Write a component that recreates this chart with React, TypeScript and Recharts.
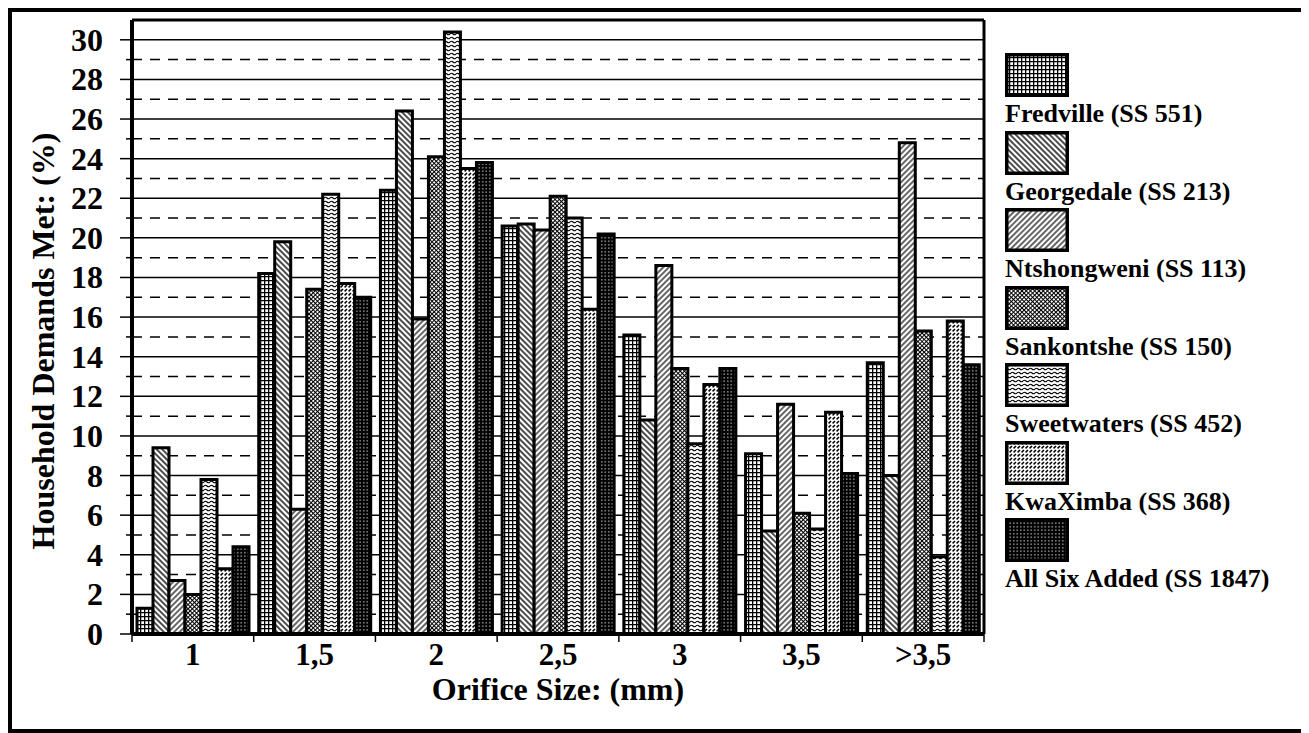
import { BarChart, Bar, XAxis, YAxis, CartesianGrid, Legend } from "recharts";

const FONT = '"Liberation Serif", "Times New Roman", serif';

const categories = ["1", "1,5", "2", "2,5", "3", "3,5", ">3,5"];
const fredville = [1.3, 18.2, 22.4, 20.6, 15.1, 9.1, 13.7];
const georgedale = [9.4, 19.8, 26.4, 20.7, 10.8, 5.2, 8.0];
const ntshongweni = [2.7, 6.3, 15.9, 20.4, 18.6, 11.6, 24.8];
const sankontshe = [2.0, 17.4, 24.1, 22.1, 13.4, 6.1, 15.3];
const sweetwaters = [7.8, 22.2, 30.4, 21.0, 9.6, 5.3, 3.9];
const kwaximba = [3.3, 17.7, 23.5, 16.4, 12.6, 11.2, 15.8];
const allSix = [4.4, 17.0, 23.8, 20.2, 13.4, 8.1, 13.6];

const yTicks = [0, 1, 2, 3, 4, 5, 6, 7, 8, 9, 10, 11, 12, 13, 14, 15, 16, 17, 18, 19, 20, 21, 22, 23, 24, 25, 26, 27, 28, 29, 30];
const solidLines = [2, 4, 6, 8, 10, 12, 14, 16, 18, 20, 22, 24, 26, 28, 30];
const dashedLines = [1, 3, 5, 7, 9, 11, 13, 15, 17, 19, 21, 23, 25, 27, 29];
const yDomain = [0, 31];

const series = [
  { key: "fredville", name: "Fredville (SS 551)", pattern: "pGrid" },
  { key: "georgedale", name: "Georgedale (SS 213)", pattern: "pBack" },
  { key: "ntshongweni", name: "Ntshongweni (SS 113)", pattern: "pFwd" },
  { key: "sankontshe", name: "Sankontshe (SS 150)", pattern: "pCheck" },
  { key: "sweetwaters", name: "Sweetwaters (SS 452)", pattern: "pWave" },
  { key: "kwaximba", name: "KwaXimba (SS 368)", pattern: "pDash" },
  { key: "allSix", name: "All Six Added (SS 1847)", pattern: "pDots" },
];

const data = categories.map((size, i) => ({
  size,
  fredville: fredville[i],
  georgedale: georgedale[i],
  ntshongweni: ntshongweni[i],
  sankontshe: sankontshe[i],
  sweetwaters: sweetwaters[i],
  kwaximba: kwaximba[i],
  allSix: allSix[i],
}));

const YTick = (props: any) => {
  const { x, y, payload } = props;
  const axisX = x + 29;
  const even = payload.value % 2 === 0;
  return (
    <g>
      <line x1={axisX - (even ? 12 : 6)} x2={axisX} y1={y} y2={y} stroke="#000" strokeWidth={1.5} />
      {even && (
        <text x={x} y={y} textAnchor="end" dominantBaseline="central" fontFamily={FONT} fontWeight="bold" fontSize={32} fill="#000">
          {payload.value}
        </text>
      )}
    </g>
  );
};

// category labels, plus the little ticks on the group boundaries
const XTick = (props: any) => {
  const { x, y, payload, index, visibleTicksCount, width } = props;
  const half = payload.offset ?? width / visibleTicksCount / 2;
  return (
    <g>
      <line x1={x - half} x2={x - half} y1={y - 8} y2={y} stroke="#000" strokeWidth={1.5} />
      {index === visibleTicksCount - 1 && (
        <line x1={x + half} x2={x + half} y1={y - 8} y2={y} stroke="#000" strokeWidth={1.5} />
      )}
      <text x={x} y={y + 1} dy="0.71em" textAnchor="middle" fontFamily={FONT} fontWeight="bold" fontSize={31} fill="#000">
        {payload.value}
      </text>
    </g>
  );
};

const YTitle = ({ viewBox }: any) => {
  const cx = viewBox.x + 31;
  const cy = viewBox.y + viewBox.height / 2 + 14;
  return (
    <text x={cx} y={cy} transform={`rotate(-90 ${cx} ${cy})`} textAnchor="middle" dominantBaseline="central" fontFamily={FONT} fontWeight="bold" fontSize={32} fill="#000">
      Household Demands Met: (%)
    </text>
  );
};

const XTitle = ({ viewBox }: any) => {
  const cx = viewBox.x + viewBox.width / 2;
  const cy = viewBox.y + 55;
  return (
    <text x={cx} y={cy} textAnchor="middle" dominantBaseline="central" fontFamily={FONT} fontWeight="bold" fontSize={32} fill="#000">
      Orifice Size: (mm)
    </text>
  );
};

const LegendBox = () => (
  <div style={{ fontFamily: FONT, fontWeight: "bold", fontSize: 26, color: "#000", lineHeight: "30px" }}>
    {series.map((s) => (
      <div key={s.key} style={{ height: 77.5 }}>
        <svg width={64} height={44} style={{ display: "block" }}>
          <rect x={1.75} y={1.75} width={60.5} height={40.5} fill={`url(#${s.pattern})`} stroke="#000" strokeWidth={3.5} />
        </svg>
        <div style={{ marginTop: 2, whiteSpace: "nowrap" }}>{s.name}</div>
      </div>
    ))}
  </div>
);

export default function App() {
  return (
    <div style={{ width: 1297, height: 725, border: "4px solid #000", boxSizing: "border-box", background: "#fff" }}>
      <BarChart
        width={1289}
        height={717}
        data={data}
        margin={{ top: 7, right: 316, bottom: 15, left: 0 }}
        barCategoryGap={5}
        barGap={0}
      >
        <defs>
          <pattern id="pGrid" width="4" height="4" patternUnits="userSpaceOnUse">
            <rect width="4" height="4" fill="#fff" />
            <path d="M0 0.6H4M0.6 0V4" stroke="#000" strokeWidth="1.4" />
          </pattern>
          <pattern id="pBack" width="4" height="4" patternUnits="userSpaceOnUse" patternTransform="rotate(-45)">
            <rect width="4" height="4" fill="#fff" />
            <line x1="1" y1="0" x2="1" y2="4" stroke="#000" strokeWidth="1.4" />
          </pattern>
          <pattern id="pFwd" width="4" height="4" patternUnits="userSpaceOnUse" patternTransform="rotate(45)">
            <rect width="4" height="4" fill="#fff" />
            <line x1="1" y1="0" x2="1" y2="4" stroke="#000" strokeWidth="1.2" />
          </pattern>
          <pattern id="pCheck" width="3" height="3" patternUnits="userSpaceOnUse" patternTransform="rotate(45)">
            <rect width="3" height="3" fill="#fff" />
            <path d="M0 0.5H3M0.5 0V3" stroke="#000" strokeWidth="1.1" />
          </pattern>
          <pattern id="pWave" width="6" height="4" patternUnits="userSpaceOnUse">
            <rect width="6" height="4" fill="#fff" />
            <path d="M0 2 Q1.5 0.4 3 2 T6 2" fill="none" stroke="#000" strokeWidth="1.1" />
          </pattern>
          <pattern id="pDash" width="4" height="4" patternUnits="userSpaceOnUse">
            <rect width="4" height="4" fill="#fff" />
            <path d="M0.6 3.4L3 1" stroke="#000" strokeWidth="1.5" />
          </pattern>
          <pattern id="pDots" width="3.5" height="3.5" patternUnits="userSpaceOnUse">
            <rect width="3.5" height="3.5" fill="#000" />
            <circle cx="1.75" cy="1.75" r="0.7" fill="#fff" />
          </pattern>
        </defs>
        <CartesianGrid xAxisId="cat" yAxisId="val" vertical={false} stroke="#000" strokeWidth={1.5} horizontalValues={solidLines} />
        <CartesianGrid xAxisId="cat" yAxisId="val" vertical={false} stroke="#000" strokeWidth={1.5} strokeDasharray="10 8" horizontalValues={dashedLines} />
        <XAxis
          xAxisId="cat"
          dataKey="size"
          height={80}
          axisLine={{ stroke: "#000", strokeWidth: 4 }}
          tickLine={{ stroke: "none" }}
          tickSize={8}
          tickMargin={0}
          tick={XTick}
          interval={0}
          label={XTitle}
        />
        <XAxis xAxisId="top" dataKey="size" orientation="top" height={1} tick={false} tickLine={false} axisLine={{ stroke: "#000", strokeWidth: 3 }} />
        <YAxis
          yAxisId="val"
          width={120}
          domain={yDomain}
          ticks={yTicks}
          interval={0}
          axisLine={{ stroke: "#000", strokeWidth: 4 }}
          tickLine={{ stroke: "none" }}
          tickSize={12}
          tickMargin={17}
          tick={YTick}
          label={YTitle}
        />
        <YAxis yAxisId="right" orientation="right" width={1} domain={yDomain} tick={false} tickLine={false} axisLine={{ stroke: "#000", strokeWidth: 3 }} />
        <Legend
          layout="horizontal"
          align="center"
          verticalAlign="middle"
          content={LegendBox}
          wrapperStyle={{ left: 993, top: 41, width: 290 }}
        />
        {series.map((s) => (
          <Bar
            key={s.key}
            xAxisId="cat"
            yAxisId="val"
            dataKey={s.key}
            name={s.name}
            fill={`url(#${s.pattern})`}
            stroke="#000"
            strokeWidth={3}
            isAnimationActive={false}
          />
        ))}
      </BarChart>
    </div>
  );
}
